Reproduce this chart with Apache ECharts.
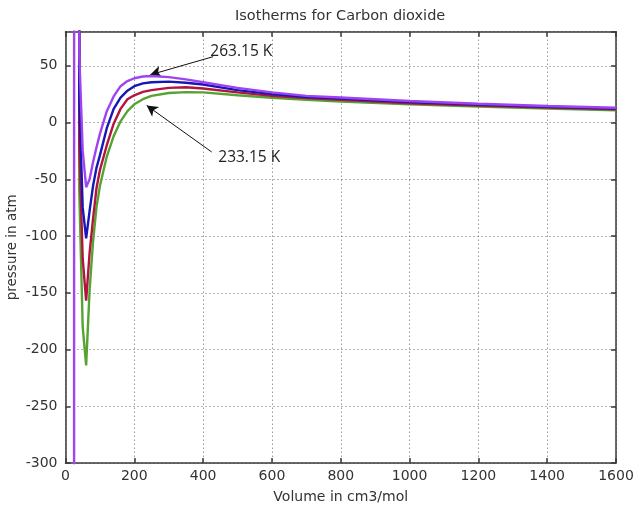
<!DOCTYPE html>
<html>
<head>
<meta charset="utf-8">
<script src="https://cdn.jsdelivr.net/npm/echarts@6/dist/echarts.min.js"></script>
<style>
  html, body { margin: 0; padding: 0; background: #ffffff; }
  #chart { width: 640px; height: 517px; }
</style>
</head>
<body>
<div id="chart"></div>
<script>
// Molar volume (cm3/mol)
const volumes = [20, 30, 40, 50, 60, 70, 80, 90, 100, 120, 140, 160, 180, 200, 225, 250, 300, 350, 400, 500, 600, 700, 800, 1000, 1200, 1400, 1600];
// Pressure (atm) per isotherm (values outside the axis range leave the plot)
const p233 = [20000, 20000, -60, -180, -214, -148, -105, -75, -56, -30, -12, 1, 10, 16, 20.5, 23.5, 26, 26.8, 26.5, 24, 21.8, 20, 18.5, 16, 14, 12.2, 10.8];
const p243 = [20000, 20000, -20, -120, -157, -115, -85, -58, -42, -20, -1, 12, 20.5, 24, 27, 28.5, 30.5, 31, 30, 26.5, 23.5, 21.5, 20, 17, 15, 13.2, 11.7];
const p253 = [20000, 20000, 20, -75, -102, -78, -56, -40, -29, -5, 12, 22, 28, 32, 34.5, 35.5, 36, 35, 33.5, 28.5, 25, 22.5, 21, 18, 15.8, 13.8, 12.3];
const p263 = [-20000, 20000, 60, -25, -57, -50, -35, -22, -10, 10, 23, 32, 36.5, 39, 40.5, 41, 40, 38, 35.5, 30.5, 26.5, 23.5, 22, 19, 16.5, 14.5, 13];
const seriesNames = ['233.15 K', '243.15 K', '253.15 K', '263.15 K'];
const xTicks = { min: 0, max: 1600, step: 200 };
const yTicks = { min: -300, max: 80, step: 50 };

const pairs = (ys) => volumes.map((v, i) => [v, ys[i]]);

const axisColor = '#3a3a3a';
const labelFont = { fontFamily: 'DejaVu Sans', fontSize: 14, color: '#333', formatter: (v) => String(v) };
const gridLine = { show: true, lineStyle: { color: '#666', type: [1, 3], width: 1 } };

const colors = ['#55a332', '#b3143f', '#1717b5', '#a044f2'];
const datasets = [p233, p243, p253, p263];

const series = datasets.map((d, i) => ({
  name: seriesNames[i],
  type: 'line',
  data: pairs(d),
  showSymbol: false,
  clip: true,
  lineStyle: { width: 2.4, color: colors[i] },
  itemStyle: { color: colors[i] },
  animation: false,
  z: 3 + i
}));

// annotations (arrows with text)
series[3].markLine = {
  silent: true,
  animation: false,
  symbol: ['none', 'arrow'],
  symbolSize: [9, 11],
  lineStyle: { color: '#111', width: 1, type: 'solid' },
  label: { show: false },
  data: [
    [{ coord: [429, 58] }, { coord: [246, 42] }],
    [{ coord: [425, -26] }, { coord: [236, 15] }]
  ]
};
series[3].markPoint = {
  silent: true,
  animation: false,
  symbol: 'circle',
  symbolSize: 0,
  label: {
    show: true,
    position: 'inside',
    fontFamily: 'Open Sans',
    fontSize: 15.5,
    color: '#222',
    formatter: (p) => p.name
  },
  data: [
    { name: '263.15 K', coord: [511, 62.5] },
    { name: '233.15 K', coord: [534, -31] }
  ]
};

const chart = echarts.init(document.getElementById('chart'), null, { renderer: 'canvas' });
chart.setOption({
  backgroundColor: '#ffffff',
  animation: false,
  title: {
    text: 'Isotherms for Carbon dioxide',
    left: 230,
    top: 4,
    textStyle: { fontFamily: 'DejaVu Sans', fontSize: 14.5, fontWeight: 'normal', color: '#333' }
  },
  grid: { left: 65.5, right: 24, top: 31.7, bottom: 54, containLabel: false, outerBoundsMode: 'none' },
  xAxis: [{
    type: 'value',
    min: xTicks.min, max: xTicks.max, interval: xTicks.step,
    position: 'bottom',
    name: 'Volume in cm3/mol',
    nameLocation: 'middle',
    nameGap: 27,
    nameMoveOverlap: false,
    nameTextStyle: { fontFamily: 'DejaVu Sans', fontSize: 14, color: '#333' },
    axisLine: { show: true, onZero: false, lineStyle: { color: axisColor, width: 1.5 } },
    axisTick: { show: true, inside: true, length: 5, lineStyle: { color: axisColor, width: 1.5 } },
    axisLabel: Object.assign({ margin: 6 }, labelFont),
    splitLine: gridLine
  }, {
    type: 'value',
    min: xTicks.min, max: xTicks.max, interval: xTicks.step,
    position: 'top',
    axisLine: { show: true, onZero: false, lineStyle: { color: axisColor, width: 1.5 } },
    axisTick: { show: true, inside: true, length: 5, lineStyle: { color: axisColor, width: 1.5 } },
    axisLabel: { show: false },
    splitLine: { show: false }
  }],
  yAxis: [{
    type: 'value',
    min: yTicks.min, max: yTicks.max, interval: yTicks.step,
    position: 'left',
    name: 'pressure in atm',
    nameLocation: 'middle',
    nameGap: 46,
    nameRotate: 90,
    nameMoveOverlap: false,
    nameTextStyle: { fontFamily: 'DejaVu Sans', fontSize: 13.5, color: '#333' },
    axisLine: { show: true, onZero: false, lineStyle: { color: axisColor, width: 1.5 } },
    axisTick: { show: true, inside: true, length: 5, lineStyle: { color: axisColor, width: 1.5 } },
    axisLabel: Object.assign({ margin: 8, showMaxLabel: false }, labelFont),
    splitLine: gridLine
  }, {
    type: 'value',
    min: yTicks.min, max: yTicks.max, interval: yTicks.step,
    position: 'right',
    axisLine: { show: true, onZero: false, lineStyle: { color: axisColor, width: 1.5 } },
    axisTick: { show: true, inside: true, length: 5, lineStyle: { color: axisColor, width: 1.5 } },
    axisLabel: { show: false },
    splitLine: { show: false }
  }],
  series: series
});
</script>
</body>
</html>
